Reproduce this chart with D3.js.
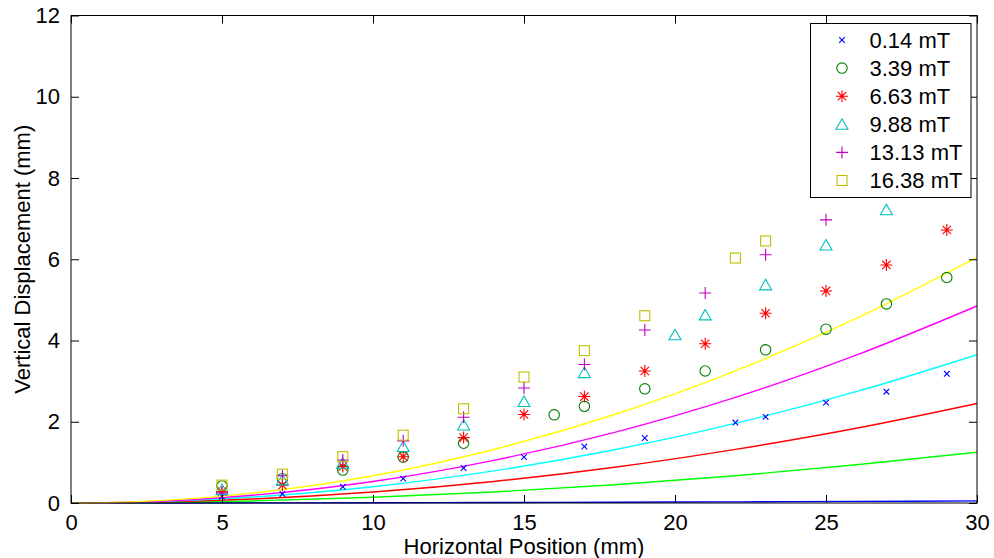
<!DOCTYPE html>
<html>
<head>
<meta charset="utf-8">
<script src="https://cdn.jsdelivr.net/npm/d3@7"></script>
<style>
  html, body { margin: 0; padding: 0; background: #fff; }
  svg { display: block; font-family: Arial, "Liberation Sans", sans-serif; }
</style>
</head>
<body>
<svg id="chart" width="994" height="558"></svg>
<script>
// Field strengths (legend labels)
const fieldLabels = ["0.14 mT", "3.39 mT", "6.63 mT", "9.88 mT", "13.13 mT", "16.38 mT"];

// Measured displacement per field strength
const xMeas014 = [5, 7, 9, 11, 13, 15, 17, 19, 22, 23, 25, 27, 29];
const yMeas014 = [0.16, 0.22, 0.40, 0.60, 0.86, 1.13, 1.39, 1.60, 1.98, 2.12, 2.47, 2.74, 3.18];

const xMeas339 = [5, 7, 9, 11, 13, 16, 17, 19, 21, 23, 25, 27, 29];
const yMeas339 = [0.42, 0.60, 0.81, 1.13, 1.47, 2.17, 2.38, 2.81, 3.25, 3.77, 4.28, 4.90, 5.55];

const xMeas663 = [5, 7, 9, 11, 13, 15, 17, 19, 21, 23, 25, 27, 29];
const yMeas663 = [0.28, 0.44, 0.90, 1.14, 1.61, 2.18, 2.62, 3.25, 3.92, 4.67, 5.22, 5.86, 6.72];

const xMeas988 = [5, 7, 9, 11, 13, 15, 17, 20, 21, 23, 25, 27];
const yMeas988 = [0.33, 0.57, 0.98, 1.39, 1.92, 2.50, 3.21, 4.14, 4.63, 5.37, 6.35, 7.22];

const xMeas1313 = [5, 7, 9, 11, 13, 15, 17, 19, 21, 23, 25];
const yMeas1313 = [0.25, 0.67, 1.06, 1.53, 2.11, 2.83, 3.41, 4.26, 5.17, 6.11, 6.97];

const xMeas1638 = [5, 7, 9, 11, 13, 15, 17, 19, 22, 23];
const yMeas1638 = [0.44, 0.71, 1.14, 1.67, 2.32, 3.10, 3.75, 4.61, 6.03, 6.45];

// Model curves, sampled along the horizontal position
const xModel = [0, 2, 6, 10, 14, 18, 22, 26, 30];
const yModel014  = [0, 0.000, 0.002, 0.006, 0.011, 0.019, 0.028, 0.039, 0.052];
const yModel339  = [0, 0.006, 0.050, 0.140, 0.270, 0.450, 0.670, 0.940, 1.25];
const yModel663  = [0, 0.011, 0.098, 0.270, 0.530, 0.880, 1.320, 1.840, 2.45];
const yModel988  = [0, 0.016, 0.146, 0.400, 0.790, 1.310, 1.960, 2.740, 3.65];
const yModel1313 = [0, 0.020, 0.190, 0.530, 1.050, 1.740, 2.600, 3.640, 4.85];
const yModel1638 = [0, 0.027, 0.242, 0.670, 1.317, 2.178, 3.253, 4.544, 6.05];

const xTicks = [0, 5, 10, 15, 20, 25, 30];
const yTicks = [0, 2, 4, 6, 8, 10, 12];

const measX = [xMeas014, xMeas339, xMeas663, xMeas988, xMeas1313, xMeas1638];
const measY = [yMeas014, yMeas339, yMeas663, yMeas988, yMeas1313, yMeas1638];
const modelY = [yModel014, yModel339, yModel663, yModel988, yModel1313, yModel1638];

const markerColors = ["#0000ff", "#008000", "#ff0000", "#00bfbf", "#bf00bf", "#bfbf00"];
const lineColors   = ["#0000ff", "#00ff00", "#ff0000", "#00ffff", "#ff00ff", "#ffff00"];
const markerKinds  = ["x", "o", "*", "^", "+", "s"];

const W = 994, H = 558;
const margin = { left: 71, right: 17, top: 15.5, bottom: 55 };
const fontSize = "22px";
const svg = d3.select("#chart");

const x = d3.scaleLinear().domain([0, 30]).range([margin.left, W - margin.right]);
const y = d3.scaleLinear().domain([0, 12]).range([H - margin.bottom, margin.top]);

// Marker shapes
function drawMarker(g, kind, cx, cy, color) {
  const s = g.append("g").attr("transform", `translate(${cx},${cy})`)
    .attr("fill", "none").attr("stroke", color).attr("stroke-width", 1.1);
  if (kind === "x") {
    s.append("path").attr("d", "M-2.8,-2.8L2.8,2.8M-2.8,2.8L2.8,-2.8");
  } else if (kind === "o") {
    s.append("circle").attr("r", 5.2);
  } else if (kind === "*") {
    s.append("path").attr("d", "M-6,0L6,0M0,-6L0,6M-4.2,-4.2L4.2,4.2M-4.2,4.2L4.2,-4.2");
  } else if (kind === "^") {
    s.append("path").attr("d", "M0,-5.5L6,5L-6,5Z");
  } else if (kind === "+") {
    s.append("path").attr("d", "M-6,0L6,0M0,-6L0,6");
  } else if (kind === "s") {
    s.append("rect").attr("x", -5).attr("y", -5).attr("width", 10).attr("height", 10);
  }
}

const plot = svg.append("g");

// Model curves
const line = d3.line().x(d => x(d[0])).y(d => y(d[1])).curve(d3.curveMonotoneX);
modelY.forEach((ys, i) => {
  plot.append("path")
    .datum(xModel.map((xv, j) => [xv, ys[j]]))
    .attr("d", line)
    .attr("fill", "none")
    .attr("stroke", lineColors[i])
    .attr("stroke-width", 1.4);
});

// Measured points
measX.forEach((xs, i) => {
  xs.forEach((xv, j) => drawMarker(plot, markerKinds[i], x(xv), y(measY[i][j]), markerColors[i]));
});

// Axes box with inward ticks on all four sides
const x0 = margin.left, x1 = W - margin.right, yb = H - margin.bottom, yt = margin.top;
const tickLen = 8;
const axisG = svg.append("g").attr("stroke", "#000").attr("stroke-width", 1);
axisG.append("rect").attr("x", x0).attr("y", yt).attr("width", x1 - x0).attr("height", yb - yt)
  .attr("fill", "none");

const xAxisB = d3.axisBottom(x).tickValues(xTicks).tickSize(-tickLen).tickPadding(11).tickFormat(d3.format("d"));
const xAxisT = d3.axisTop(x).tickValues(xTicks).tickSize(-tickLen).tickFormat("");
const yAxisL = d3.axisLeft(y).tickValues(yTicks).tickSize(-tickLen).tickPadding(11).tickFormat(d3.format("d"));
const yAxisR = d3.axisRight(y).tickValues(yTicks).tickSize(-tickLen).tickFormat("");

function styleAxis(g) {
  g.select(".domain").remove();
  g.selectAll(".tick line").attr("stroke", "#000");
  g.selectAll(".tick text").attr("fill", "#000").style("font-size", fontSize)
    .style("font-family", 'Arial, "Liberation Sans", sans-serif');
}
svg.append("g").attr("transform", `translate(0,${yb})`).call(xAxisB).call(styleAxis);
svg.append("g").attr("transform", `translate(0,${yt})`).call(xAxisT).call(styleAxis);
svg.append("g").attr("transform", `translate(${x0},0)`).call(yAxisL).call(styleAxis);
svg.append("g").attr("transform", `translate(${x1},0)`).call(yAxisR).call(styleAxis);

// Axis titles
svg.append("text")
  .attr("x", (x0 + x1) / 2).attr("y", 554)
  .attr("text-anchor", "middle")
  .style("font-size", fontSize)
  .text("Horizontal Position (mm)");
svg.append("text")
  .attr("transform", `translate(30,${(yt + yb) / 2}) rotate(-90)`)
  .attr("text-anchor", "middle")
  .style("font-size", fontSize)
  .text("Vertical Displacement (mm)");

// Legend
const lg = svg.append("g");
const lgX = 810.5, lgY = 23.5, lgW = 160.5, lgH = 174, rowH = 28.1;
lg.append("rect").attr("x", lgX).attr("y", lgY).attr("width", lgW).attr("height", lgH)
  .attr("fill", "#fff").attr("stroke", "#000").attr("stroke-width", 1);
fieldLabels.forEach((lab, i) => {
  const cy = lgY + 16.5 + i * rowH;
  drawMarker(lg, markerKinds[i], lgX + 31.5, cy, markerColors[i]);
  lg.append("text").attr("x", lgX + 59).attr("y", cy + 7.8)
    .style("font-size", fontSize).text(lab);
});
</script>
</body>
</html>
